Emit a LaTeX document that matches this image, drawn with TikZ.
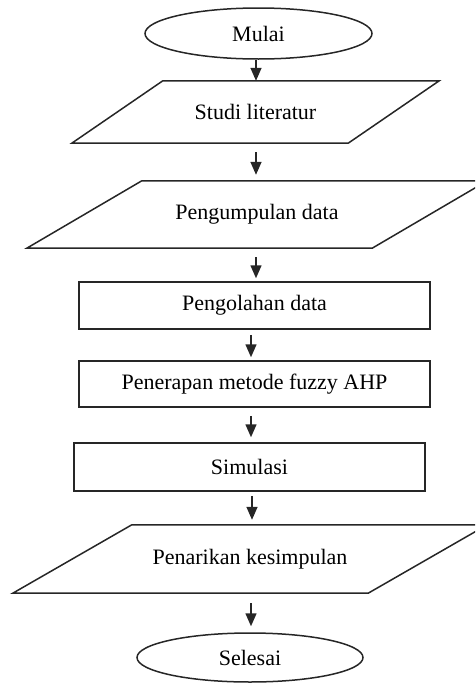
\documentclass[tikz,border=0pt]{standalone}
\usepackage{fontspec}
\setmainfont{Liberation Serif}
\usetikzlibrary{shapes.geometric,arrows.meta}
\begin{document}
\begin{tikzpicture}[x=1pt,y=-1pt,
  every node/.style={font=\fontsize{22}{26}\selectfont, inner sep=0pt},
  ln/.style={line width=1.5pt, draw=black!85},
  term/.style={ln, ellipse},
  proc/.style={ln, rectangle},
  io/.style={rectangle},
  arr/.style={ln, -{Triangle[length=13pt,width=11pt]}}
]
\useasboundingbox (0,0) rectangle (475,683);
\clip (0,0) rectangle (475,683);
% Terminals
\node[term, minimum width=227pt, minimum height=51pt] (mulai) at (258.5,33.5) {Mulai};
\node[term, minimum width=226pt, minimum height=49pt] (selesai) at (250,657.5) {Selesai};
% Parallelograms (input/output)
\node[io, minimum width=276pt, minimum height=62pt] (studi) at (255.5,112) {Studi literatur};
\draw[ln] ([xshift=45.5pt]studi.north west) -- ([xshift=45.5pt]studi.north east)
  -- ([xshift=-45.5pt]studi.south east) -- ([xshift=-45.5pt]studi.south west) -- cycle;
\node[io, minimum width=345pt, minimum height=67pt] (kumpul) at (257,214.5) {Pengumpulan data};
\draw[ln] ([xshift=57.5pt]kumpul.north west) -- ([xshift=57.5pt]kumpul.north east)
  -- ([xshift=-57.5pt]kumpul.south east) -- ([xshift=-57.5pt]kumpul.south west) -- cycle;
\node[io, minimum width=355pt, minimum height=68pt] (tarik) at (250,559) {Penarikan kesimpulan};
\draw[ln] ([xshift=59.5pt]tarik.north west) -- ([xshift=59.5pt]tarik.north east)
  -- ([xshift=-59.5pt]tarik.south east) -- ([xshift=-59.5pt]tarik.south west) -- cycle;
% Process boxes
\node[proc, minimum width=351pt, minimum height=47pt] (olah) at (254.5,305.5) {Pengolahan data};
\node[proc, minimum width=351pt, minimum height=46pt] (terap) at (254.5,384) {Penerapan metode fuzzy AHP};
\node[proc, minimum width=351pt, minimum height=48pt] (simul) at (249.5,467) {Simulasi};
% Arrows
\draw[arr] ([xshift=-2.5pt]mulai.south) -- ([xshift=-2.5pt]mulai.south |- studi.north);
\draw[arr, shorten <=9pt, shorten >=6pt] ([xshift=0.5pt]studi.south) -- ([xshift=0.5pt]studi.south |- kumpul.north);
\draw[arr, shorten <=9pt, shorten >=3pt] ([xshift=-1pt]kumpul.south) -- ([xshift=-1pt]kumpul.south |- olah.north);
\draw[arr, shorten <=5pt, shorten >=3pt] ([xshift=-3.5pt]olah.south) -- ([xshift=-3.5pt]olah.south |- terap.north);
\draw[arr, shorten <=8pt, shorten >=5pt] ([xshift=-3.5pt]terap.south) -- ([xshift=-3.5pt]terap.south |- simul.north);
\draw[arr, shorten <=4pt, shorten >=5pt] ([xshift=2.5pt]simul.south) -- ([xshift=2.5pt]simul.south |- tarik.north);
\draw[arr, shorten <=10pt, shorten >=6pt] ([xshift=1pt]tarik.south) -- ([xshift=1pt]tarik.south |- selesai.north);
\end{tikzpicture}
\end{document}
